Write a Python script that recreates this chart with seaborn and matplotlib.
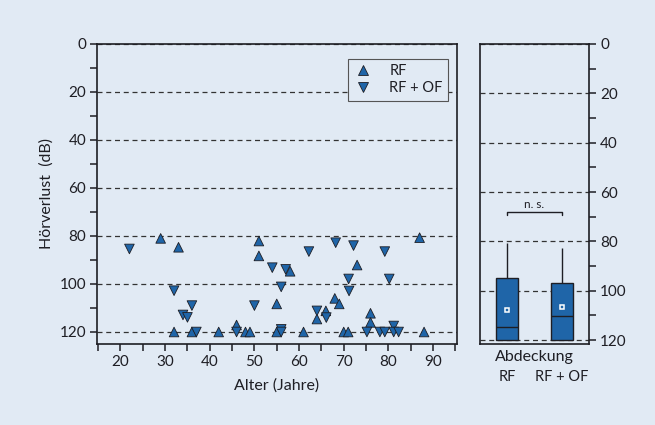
import numpy as np
import pandas as pd
import matplotlib.pyplot as plt
from matplotlib.lines import Line2D
from matplotlib.ticker import MultipleLocator
import seaborn as sns

# RF (up triangles): age in years, hearing loss in dB
rf_age = [29, 33, 51, 51, 32, 36, 42, 46, 48, 49, 55, 55, 58, 61, 87,
          73, 68, 69, 64, 66, 76, 76, 70, 71, 88]
rf_db = [81, 84.7, 82.1, 88.3, 120, 120, 120, 117.1, 120, 120, 108.3, 120, 94.7, 120, 80.7,
         92.1, 106, 108.3, 114.6, 111.2, 112.2, 116, 120, 120, 120]

# RF + OF (down triangles)
rfof_age = [22, 54, 32, 36, 34, 35, 37, 46, 50, 56, 57, 56, 56, 62.2,
            68.2, 72.2, 79.2, 71.1, 80.2, 71.2, 64, 66.1, 75.2, 78.1, 79.2, 81.2, 81.2, 82.3]
rfof_db = [85.4, 93.2, 102.8, 109, 112.9, 113.9, 120, 120, 109, 101.2, 93.9, 118.9, 120, 86.5,
           82.8, 84, 86.5, 97.9, 97.9, 102.9, 111.2, 114, 120, 120, 120, 117.5, 120, 120]

groups = ['RF', 'RF + OF']
yticks = [0, 20, 40, 60, 80, 100, 120]
xticks = [20, 30, 40, 50, 60, 70, 80, 90]
ns_y = 68

bg = '#e1eaf4'
blue = '#1f65a8'
dark = '#1e1e24'

df = pd.DataFrame({
    'age': rf_age + rfof_age,
    'db': rf_db + rfof_db,
    'group': ['RF'] * len(rf_age) + ['RF + OF'] * len(rfof_age),
})

sns.set_theme(style='ticks')
plt.rcParams['font.family'] = ['Lato', 'DejaVu Sans']
plt.rcParams['text.color'] = dark
plt.rcParams['axes.labelcolor'] = dark
plt.rcParams['xtick.color'] = dark
plt.rcParams['ytick.color'] = dark

fig = plt.figure(figsize=(6.55, 4.25), dpi=100, facecolor=bg)
ax = fig.add_axes([0.1485, 0.1906, 0.5487, 0.7059], facecolor=bg)
ax2 = fig.add_axes([0.7328, 0.1906, 0.1664, 0.7059], facecolor=bg)

# scatter: age vs hearing loss
sns.scatterplot(data=df, x='age', y='db', style='group', markers={'RF': '^', 'RF + OF': 'v'},
                color=blue, s=48, edgecolor=dark, linewidth=0.6, ax=ax, legend=False, zorder=3)
ax.set_xlim(14.8, 95.3)
ax.set_ylim(125, 0)
ax.set_xticks(xticks)
ax.set_yticks(yticks)
ax.xaxis.set_minor_locator(MultipleLocator(5))
ax.yaxis.set_minor_locator(MultipleLocator(10))
ax.set_axisbelow(True)
ax.yaxis.grid(True, which='major', linestyle=(0, (4, 3)), color='#333333', lw=0.9)
ax.tick_params(which='both', direction='out', length=5, width=1.1, labelsize=11, pad=3)
ax.set_xlabel('Alter (Jahre)', fontsize=11.5, labelpad=7)
ax.set_ylabel('Hörverlust  (dB)', fontsize=11.5, labelpad=4)

handles = [Line2D([], [], marker='^', ls='', color=blue, mec=dark, mew=0.6, ms=6.5),
           Line2D([], [], marker='v', ls='', color=blue, mec=dark, mew=0.6, ms=6.5)]
leg = ax.legend(handles, groups, loc='upper right', bbox_to_anchor=(0.975, 0.951),
                borderaxespad=0, fancybox=False, edgecolor='#555555', facecolor=bg,
                framealpha=1, fontsize=10.5, handletextpad=1.1, borderpad=0.35,
                labelspacing=0.25, handlelength=1.4)
leg.get_frame().set_linewidth(0.8)

# boxplot by coverage
sns.boxplot(data=df, x='group', y='db', order=groups, ax=ax2, width=0.4, color=blue,
            saturation=1, linecolor=dark, linewidth=1, showcaps=False, showfliers=False,
            showmeans=True, meanprops=dict(marker='s', markerfacecolor=blue,
                                           markeredgecolor='white', markersize=3.5, mew=1.1))
ax2.set_xlim(-0.5, 1.5)
ax2.set_ylim(121.6, 0)
ax2.set_yticks(yticks)
ax2.yaxis.set_minor_locator(MultipleLocator(10))
ax2.yaxis.tick_right()
ax2.set_axisbelow(True)
ax2.yaxis.grid(True, which='major', linestyle=(0, (4, 3)), color='#333333', lw=0.9)
ax2.tick_params(axis='y', which='both', direction='out', length=5, width=1.1, labelsize=11, pad=3)
ax2.tick_params(axis='x', length=0, labelsize=10.5, pad=19)
ax2.set_xlabel('')
ax2.set_ylabel('')
ax2.text(0.5, -0.043, 'Abdeckung', transform=ax2.transAxes, ha='center', va='center', fontsize=11.5)

ax2.plot([0, 0, 1, 1], [ns_y + 1.5, ns_y, ns_y, ns_y + 1.5], color=dark, lw=1)
ax2.text(0.5, ns_y - 0.6, 'n. s.', ha='center', va='bottom', fontsize=8.5)

for a in (ax, ax2):
    for sp in a.spines.values():
        sp.set_visible(True)
        sp.set_color(dark)
        sp.set_linewidth(1.2)

fig.savefig('out.png', dpi=100, facecolor=bg)
